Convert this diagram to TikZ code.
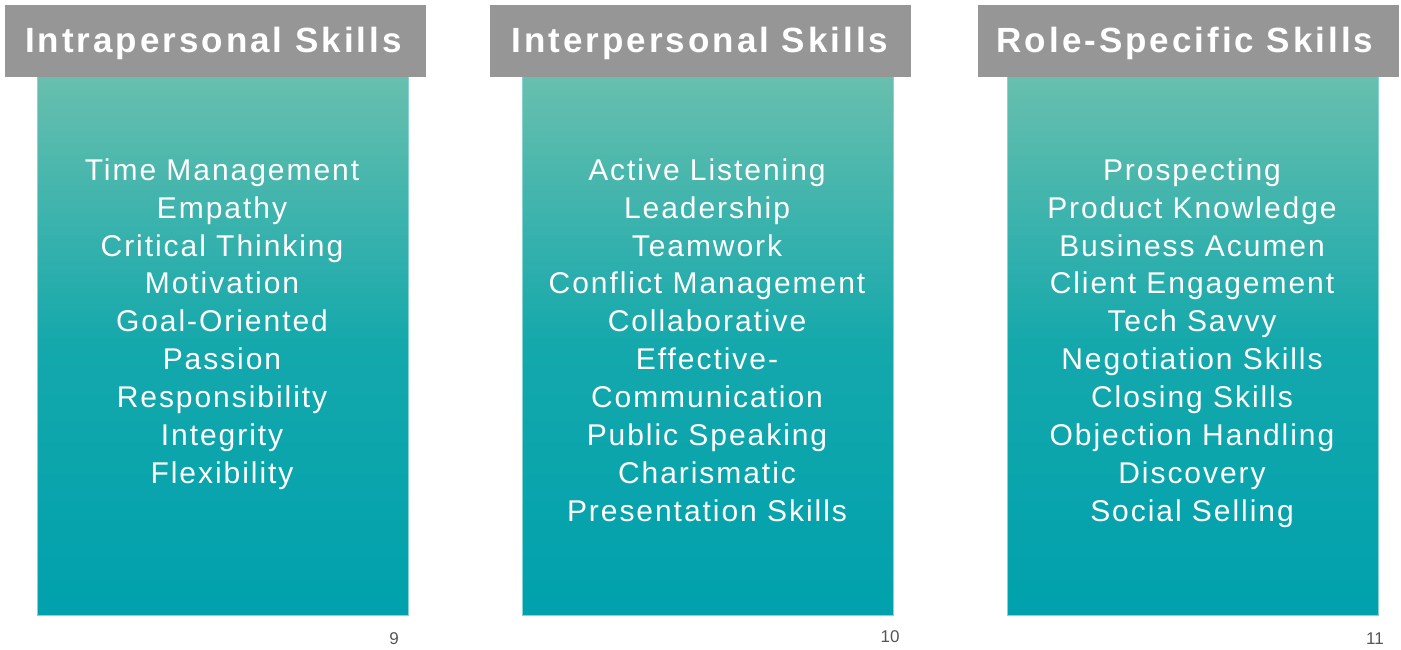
\documentclass[tikz,border=0pt]{standalone}
\usepackage{fontspec}
\setmainfont{Liberation Sans}
\newfontfamily\headfont[LetterSpace=8.5]{Liberation Sans}
\newfontfamily\listfont[LetterSpace=6.5]{Liberation Sans}
\usetikzlibrary{positioning}
\definecolor{headgray}{HTML}{969696}
\definecolor{tealtop}{HTML}{68BFAE}
\definecolor{tealmid}{HTML}{14A8AC}
\definecolor{tealbot}{HTML}{00A1AD}
\definecolor{tealedge}{HTML}{86D4CF}
\definecolor{numgray}{HTML}{555555}
\pgfdeclareverticalshading{skillshade}{100bp}{
  color(0bp)=(tealbot); color(25bp)=(tealbot); color(50bp)=(tealmid);
  color(75bp)=(tealtop); color(100bp)=(tealtop)}
\tikzset{
  header/.style = {fill = headgray, text = white, minimum width = 421pt, minimum height = 72pt,
                   inner sep = 0pt, font = \headfont\fontsize{35}{40}\selectfont\bfseries},
  skillbox/.style = {shading = skillshade, draw = tealedge, line width = 1pt,
                     minimum width = 371pt, minimum height = 538pt, inner sep = 0pt},
  skills/.style = {text = white, align = center, font = \listfont\fontsize{30}{37.9}\selectfont},
  pagenum/.style = {text = numgray, font = \fontsize{17}{19}\selectfont}
}
\begin{document}
\begin{tikzpicture}[x = 1pt, y = -1pt]
\useasboundingbox (0, 0) rectangle (1401, 650);
\node[skillbox] (box1) at (222.5, 346) {};
\node[skillbox] (box2) at (707.5, 346) {};
\node[skillbox] (box3) at (1192.5, 346) {};
\node[header] (head1) at (215.5, 41) {};
\node[header] (head2) at (700.5, 41) {};
\node[header] (head3) at (1188, 41) {};
\node[text = white, font = \headfont\fontsize{35}{40}\selectfont\bfseries] (title1) at (213.5, 43) {Intrapersonal Skills};
\node[text = white, font = \headfont\fontsize{35}{40}\selectfont\bfseries] (title2) at (700, 43) {Interpersonal Skills};
\node[text = white, font = \headfont\fontsize{35}{40}\selectfont\bfseries] (title3) at (1185, 43) {Role-Specific Skills};
\node[skills, anchor = north] (list1) at (222, 155) {Time Management\\Empathy\\Critical Thinking\\Motivation\\Goal-Oriented\\Passion\\Responsibility\\Integrity\\Flexibility};
\node[skills, anchor = north] (list2) at (707, 155) {Active Listening\\Leadership\\Teamwork\\Conflict Management\\Collaborative\\Effective-\\Communication\\Public Speaking\\Charismatic\\Presentation Skills};
\node[skills, anchor = north] (list3) at (1192, 155) {Prospecting\\Product Knowledge\\Business Acumen\\Client Engagement\\Tech Savvy\\Negotiation Skills\\Closing Skills\\Objection Handling\\Discovery\\Social Selling};
\node[pagenum] (num1) at (394, 639) {9};
\node[pagenum] (num2) at (890, 637) {10};
\node[pagenum] (num3) at (1375, 639) {11};
\end{tikzpicture}
\end{document}
